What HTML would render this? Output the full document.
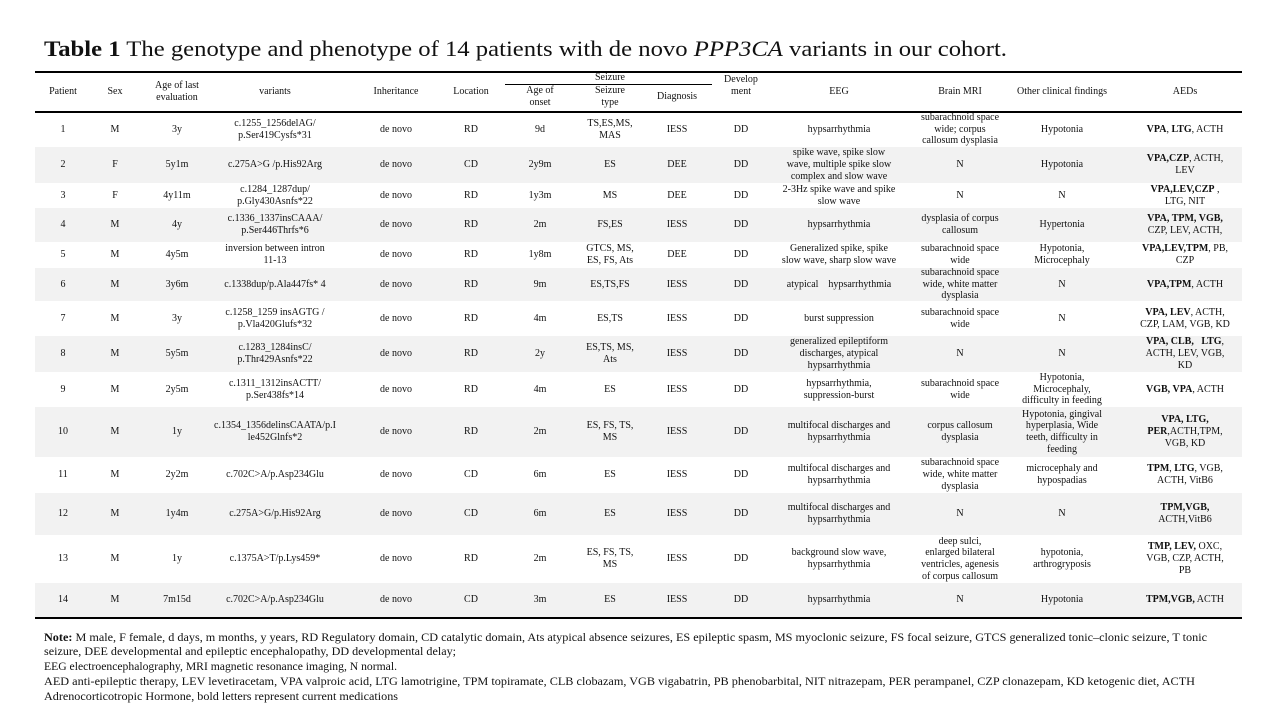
<!DOCTYPE html>
<html><head><meta charset="utf-8"><style>
html,body{margin:0;padding:0;background:#fff}
body{width:1280px;height:720px;position:relative;overflow:hidden;font-family:"Liberation Serif",serif;color:#111}
.ln{position:absolute;background:#000}
.r{position:absolute;left:35px;width:1207px;font-size:10px}
.r.g{background:#f2f2f2}
.r>div{position:absolute;top:0;bottom:0;width:170px;margin-left:-85px;display:flex;align-items:center;justify-content:center;text-align:center;white-space:nowrap;line-height:11.7px}
.r>div:nth-child(1){left:28px}
.r>div:nth-child(2){left:80px}
.r>div:nth-child(3){left:142px}
.r>div:nth-child(4){left:240px}
.r>div:nth-child(5){left:361px}
.r>div:nth-child(6){left:436px}
.r>div:nth-child(7){left:505px}
.r>div:nth-child(8){left:575px}
.r>div:nth-child(9){left:642px}
.r>div:nth-child(10){left:706px}
.r>div:nth-child(11){left:804px}
.r>div:nth-child(12){left:925px}
.r>div:nth-child(13){left:1027px}
.r>div:nth-child(14){left:1150px}
.hc{position:absolute;font-size:10px;line-height:11.7px;text-align:center;white-space:nowrap;width:140px;margin-left:-70px;display:flex;align-items:center;justify-content:center}
svg{position:absolute;left:0;top:0}
</style></head><body>

<svg width="1280" height="720" font-family="Liberation Serif, serif" fill="#111">
<text x="44" y="56" font-size="22" textLength="963" lengthAdjust="spacingAndGlyphs"><tspan font-weight="bold">Table 1</tspan> The genotype and phenotype of 14 patients with de novo <tspan font-style="italic">PPP3CA</tspan> variants in our cohort.</text>
<text x="44" y="641" font-size="12" textLength="1163" lengthAdjust="spacingAndGlyphs"><tspan font-weight="bold">Note:</tspan> M male, F female, d days, m months, y years, RD Regulatory domain, CD catalytic domain, Ats atypical absence seizures, ES epileptic spasm, MS myoclonic seizure, FS focal seizure, GTCS generalized tonic–clonic seizure, T tonic</text>
<text x="44" y="655" font-size="12" textLength="412" lengthAdjust="spacingAndGlyphs">seizure, DEE developmental and epileptic encephalopathy, DD developmental delay;</text>
<text x="44" y="670" font-size="12" textLength="353" lengthAdjust="spacingAndGlyphs">EEG electroencephalography, MRI magnetic resonance imaging, N normal.</text>
<text x="44" y="685" font-size="12" textLength="1151" lengthAdjust="spacingAndGlyphs">AED anti-epileptic therapy, LEV levetiracetam, VPA valproic acid, LTG lamotrigine, TPM topiramate, CLB clobazam, VGB vigabatrin, PB phenobarbital, NIT nitrazepam, PER perampanel, CZP clonazepam, KD ketogenic diet, ACTH</text>
<text x="44" y="700" font-size="12" textLength="354" lengthAdjust="spacingAndGlyphs">Adrenocorticotropic Hormone, bold letters represent current medications</text>
</svg>

<!-- header -->
<div class="hc" style="left:63px;top:73px;height:38px">Patient</div>
<div class="hc" style="left:115px;top:73px;height:38px">Sex</div>
<div class="hc" style="left:177px;top:73px;height:38px">Age of last<br>evaluation</div>
<div class="hc" style="left:275px;top:73px;height:38px">variants</div>
<div class="hc" style="left:396px;top:73px;height:38px">Inheritance</div>
<div class="hc" style="left:471px;top:73px;height:38px">Location</div>
<div class="hc" style="left:610px;top:72px;height:12px">Seizure</div>
<div class="hc" style="left:540px;top:85px;height:24px">Age of<br>onset</div>
<div class="hc" style="left:610px;top:85px;height:24px">Seizure<br>type</div>
<div class="hc" style="left:677px;top:85px;height:24px">Diagnosis</div>
<div class="hc" style="left:741px;top:73px;height:26px">Develop<br>ment</div>
<div class="hc" style="left:839px;top:73px;height:38px">EEG</div>
<div class="hc" style="left:960px;top:73px;height:38px">Brain MRI</div>
<div class="hc" style="left:1062px;top:73px;height:38px">Other clinical findings</div>
<div class="hc" style="left:1185px;top:73px;height:38px">AEDs</div>

<div class="r" style="top:112px;height:35px"><div>1</div><div>M</div><div>3y</div><div>c.1255_1256delAG/<br>p.Ser419Cysfs*31</div><div>de novo</div><div>RD</div><div>9d</div><div>TS,ES,MS,<br>MAS</div><div>IESS</div><div>DD</div><div>hypsarrhythmia</div><div>subarachnoid space<br>wide; corpus<br>callosum dysplasia</div><div>Hypotonia</div><div><span><b>VPA</b>, <b>LTG</b>, ACTH</span></div></div>

<div class="r g" style="top:147px;height:36px"><div>2</div><div>F</div><div>5y1m</div><div>c.275A&gt;G /p.His92Arg</div><div>de novo</div><div>CD</div><div>2y9m</div><div>ES</div><div>DEE</div><div>DD</div><div>spike wave, spike slow<br>wave, multiple spike slow<br>complex and slow wave</div><div>N</div><div>Hypotonia</div><div><span><b>VPA,CZP</b>, ACTH,<br>LEV</span></div></div>

<div class="r" style="top:183px;height:25px"><div>3</div><div>F</div><div>4y11m</div><div>c.1284_1287dup/<br>p.Gly430Asnfs*22</div><div>de novo</div><div>RD</div><div>1y3m</div><div>MS</div><div>DEE</div><div>DD</div><div>2-3Hz spike wave and spike<br>slow wave</div><div>N</div><div>N</div><div><span><b>VPA,LEV,CZP</b> ,<br>LTG, NIT</span></div></div>

<div class="r g" style="top:208px;height:34px"><div>4</div><div>M</div><div>4y</div><div>c.1336_1337insCAAA/<br>p.Ser446Thrfs*6</div><div>de novo</div><div>RD</div><div>2m</div><div>FS,ES</div><div>IESS</div><div>DD</div><div>hypsarrhythmia</div><div>dysplasia of corpus<br>callosum</div><div>Hypertonia</div><div><span><b>VPA, TPM, VGB,</b><br>CZP, LEV, ACTH,</span></div></div>

<div class="r" style="top:242px;height:26px"><div>5</div><div>M</div><div>4y5m</div><div>inversion between intron<br>11-13</div><div>de novo</div><div>RD</div><div>1y8m</div><div>GTCS, MS,<br>ES, FS, Ats</div><div>DEE</div><div>DD</div><div>Generalized spike, spike<br>slow wave, sharp slow wave</div><div>subarachnoid space<br>wide</div><div>Hypotonia,<br>Microcephaly</div><div><span><b>VPA,LEV,TPM</b>, PB,<br>CZP</span></div></div>

<div class="r g" style="top:268px;height:33px"><div>6</div><div>M</div><div>3y6m</div><div>c.1338dup/p.Ala447fs* 4</div><div>de novo</div><div>RD</div><div>9m</div><div>ES,TS,FS</div><div>IESS</div><div>DD</div><div>atypical&nbsp;&nbsp;&nbsp;&nbsp;hypsarrhythmia</div><div>subarachnoid space<br>wide, white matter<br>dysplasia</div><div>N</div><div><span><b>VPA,TPM</b>, ACTH</span></div></div>

<div class="r" style="top:301px;height:35px"><div>7</div><div>M</div><div>3y</div><div>c.1258_1259 insAGTG /<br>p.Vla420Glufs*32</div><div>de novo</div><div>RD</div><div>4m</div><div>ES,TS</div><div>IESS</div><div>DD</div><div>burst suppression</div><div>subarachnoid space<br>wide</div><div>N</div><div><span><b>VPA, LEV</b>, ACTH,<br>CZP, LAM, VGB, KD</span></div></div>

<div class="r g" style="top:336px;height:36px"><div>8</div><div>M</div><div>5y5m</div><div>c.1283_1284insC/<br>p.Thr429Asnfs*22</div><div>de novo</div><div>RD</div><div>2y</div><div>ES,TS, MS,<br>Ats</div><div>IESS</div><div>DD</div><div>generalized epileptiform<br>discharges, atypical<br>hypsarrhythmia</div><div>N</div><div>N</div><div><span><b>VPA, CLB,&nbsp;&nbsp; LTG</b>,<br>ACTH, LEV, VGB,<br>KD</span></div></div>

<div class="r" style="top:372px;height:35px"><div>9</div><div>M</div><div>2y5m</div><div>c.1311_1312insACTT/<br>p.Ser438fs*14</div><div>de novo</div><div>RD</div><div>4m</div><div>ES</div><div>IESS</div><div>DD</div><div>hypsarrhythmia,<br>suppression-burst</div><div>subarachnoid space<br>wide</div><div>Hypotonia,<br>Microcephaly,<br>difficulty in feeding</div><div><span><b>VGB, VPA</b>, ACTH</span></div></div>

<div class="r g" style="top:407px;height:50px"><div>10</div><div>M</div><div>1y</div><div>c.1354_1356delinsCAATA/p.I<br>le452Glnfs*2</div><div>de novo</div><div>RD</div><div>2m</div><div>ES, FS, TS,<br>MS</div><div>IESS</div><div>DD</div><div>multifocal discharges and<br>hypsarrhythmia</div><div>corpus callosum<br>dysplasia</div><div>Hypotonia, gingival<br>hyperplasia, Wide<br>teeth, difficulty in<br>feeding</div><div><span><b>VPA, LTG,</b><br><b>PER</b>,ACTH,TPM,<br>VGB, KD</span></div></div>

<div class="r" style="top:457px;height:36px"><div>11</div><div>M</div><div>2y2m</div><div>c.702C&gt;A/p.Asp234Glu</div><div>de novo</div><div>CD</div><div>6m</div><div>ES</div><div>IESS</div><div>DD</div><div>multifocal discharges and<br>hypsarrhythmia</div><div>subarachnoid space<br>wide, white matter<br>dysplasia</div><div>microcephaly and<br>hypospadias</div><div><span><b>TPM</b>, <b>LTG</b>, VGB,<br>ACTH, VitB6</span></div></div>

<div class="r g" style="top:493px;height:42px"><div>12</div><div>M</div><div>1y4m</div><div>c.275A&gt;G/p.His92Arg</div><div>de novo</div><div>CD</div><div>6m</div><div>ES</div><div>IESS</div><div>DD</div><div>multifocal discharges and<br>hypsarrhythmia</div><div>N</div><div>N</div><div><span><b>TPM,VGB,</b><br>ACTH,VitB6</span></div></div>

<div class="r" style="top:535px;height:48px"><div>13</div><div>M</div><div>1y</div><div>c.1375A&gt;T/p.Lys459*</div><div>de novo</div><div>RD</div><div>2m</div><div>ES, FS, TS,<br>MS</div><div>IESS</div><div>DD</div><div>background slow wave,<br>hypsarrhythmia</div><div>deep sulci,<br>enlarged bilateral<br>ventricles, agenesis<br>of corpus callosum</div><div>hypotonia,<br>arthrogryposis</div><div><span><b>TMP, LEV,</b> OXC,<br>VGB, CZP, ACTH,<br>PB</span></div></div>

<div class="r g" style="top:583px;height:34px"><div>14</div><div>M</div><div>7m15d</div><div>c.702C&gt;A/p.Asp234Glu</div><div>de novo</div><div>CD</div><div>3m</div><div>ES</div><div>IESS</div><div>DD</div><div>hypsarrhythmia</div><div>N</div><div>Hypotonia</div><div><span><b>TPM,VGB,</b> ACTH</span></div></div>

<div class="ln" style="left:35px;top:71px;width:1207px;height:2px"></div>
<div class="ln" style="left:505px;top:84px;width:207px;height:1px"></div>
<div class="ln" style="left:35px;top:111px;width:1207px;height:2px"></div>
<div class="ln" style="left:35px;top:617px;width:1207px;height:2px"></div>

</body></html>
